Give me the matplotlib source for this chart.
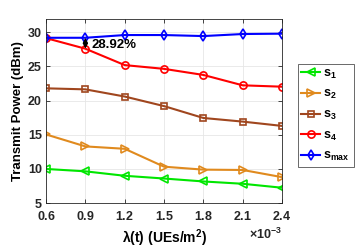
import matplotlib
matplotlib.use("Agg")
import matplotlib.pyplot as plt
from matplotlib.ticker import ScalarFormatter

plt.rcParams['font.family'] = ['Liberation Sans', 'DejaVu Sans']
plt.rcParams['font.weight'] = 'bold'
plt.rcParams['mathtext.fontset'] = 'custom'
plt.rcParams['mathtext.rm'] = 'Liberation Sans:bold'
plt.rcParams['mathtext.it'] = 'Liberation Sans:bold'
plt.rcParams['mathtext.bf'] = 'Liberation Sans:bold'
plt.rcParams['mathtext.default'] = 'rm'

lam = [0.6e-3, 0.9e-3, 1.2e-3, 1.5e-3, 1.8e-3, 2.1e-3, 2.4e-3]
s1 = [10.0, 9.65, 9.0, 8.6, 8.17, 7.83, 7.25]
s2 = [15.05, 13.3, 12.95, 10.33, 9.9, 9.85, 8.8]
s3 = [21.8, 21.65, 20.6, 19.2, 17.46, 16.93, 16.3]
s4 = [29.15, 27.6, 25.2, 24.65, 23.76, 22.24, 22.04]
smax = [29.2, 29.2, 29.6, 29.6, 29.45, 29.75, 29.8]
labels = [r'$s_1$', r'$s_2$', r'$s_3$', r'$s_4$', r'$s_{max}$']
annot_text = '28.92%'

fig = plt.figure(figsize=(3.57, 2.52), dpi=100)
ax = fig.add_axes([0.129, 0.194, 0.661, 0.732])

styles = [
    dict(color='#00e600', marker='<'),
    dict(color='#e08a1e', marker='>'),
    dict(color='#a0461e', marker='s'),
    dict(color='#ff0000', marker='o'),
    dict(color='#0000ff', marker='d'),
]
series = [s1, s2, s3, s4, smax]
for ys, st, lb in zip(series, styles, labels):
    ms = 4.2 if st['marker'] == 's' else 5.2
    ax.plot(lam, ys, color=st['color'], marker=st['marker'], mfc='none',
            mec=st['color'], mew=1.2, ms=ms, lw=1.5, label=lb)

ax.annotate('', xy=(lam[1], s4[1]), xytext=(lam[1], smax[1]),
            arrowprops=dict(arrowstyle='<|-|>', color='black', lw=1.0,
                            mutation_scale=7, shrinkA=0, shrinkB=0))
ax.text(lam[1] + 0.05e-3, (s4[1] + smax[1]) / 2 - 0.3, annot_text,
        fontsize=9.5, fontweight='bold', va='center', ha='left')

ax.set_xlim(0.6e-3, 2.4e-3)
ax.set_ylim(5, 32)
ax.set_xticks(lam)
ax.set_yticks([5, 10, 15, 20, 25, 30])
fmt = ScalarFormatter(useMathText=True)
fmt.set_powerlimits((-2, 2))
ax.xaxis.set_major_formatter(fmt)
ax.tick_params(direction='in', labelsize=9, length=3, width=0.6,
               top=True, right=True, colors='#262626')
ax.tick_params(axis='x', pad=5)
ax.tick_params(axis='y', pad=3)
ax.xaxis.get_offset_text().set_fontsize(9)
ax.grid(True, color='#e6e6e6', lw=0.6)
for sp in ax.spines.values():
    sp.set_color('#262626')
    sp.set_linewidth(0.6)

ax.set_ylabel('Transmit Power (dBm)', fontsize=9.5, fontweight='bold', labelpad=3)
ax.set_xlabel(r'λ(t) (UEs/m$^2$)', fontsize=10, fontweight='bold', labelpad=3)

leg = ax.legend(loc='upper left', bbox_to_anchor=(0.834, 0.746),
                bbox_transform=fig.transFigure, fontsize=9, frameon=True,
                fancybox=False, edgecolor='#262626', handlelength=1.5,
                handletextpad=0.25, borderpad=0.3, labelspacing=0.6,
                borderaxespad=0)
leg.get_frame().set_linewidth(0.6)

fig.savefig('out.png', dpi=100)
